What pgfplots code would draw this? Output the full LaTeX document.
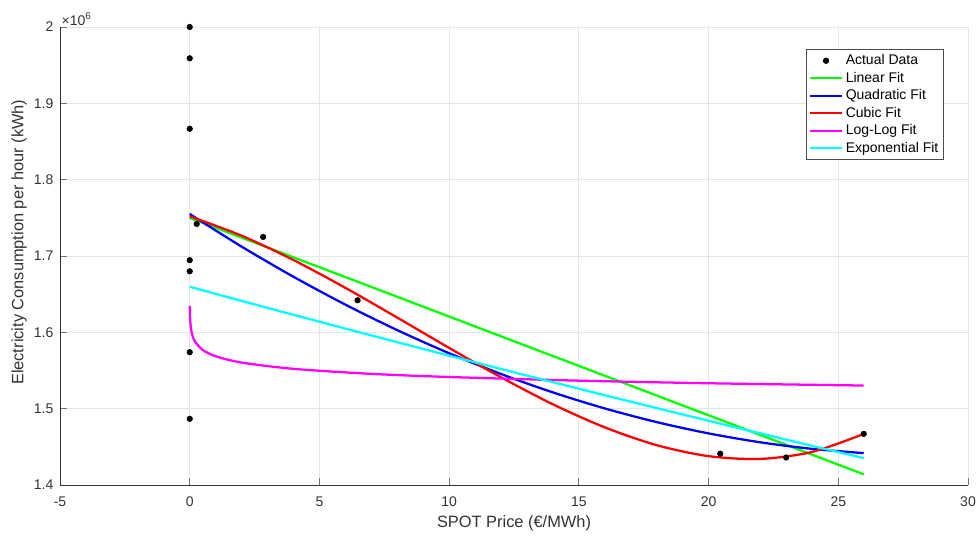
\documentclass[border=0pt]{standalone}
\usepackage{pgfplots}
\pgfplotsset{compat=1.18}
\usepackage{fontspec}
\setmainfont{Liberation Sans}
\definecolor{fgreen}{rgb}{0,1,0}
\definecolor{fblue}{rgb}{0,0,1}
\definecolor{fred}{rgb}{1,0,0}
\definecolor{fmag}{rgb}{1,0,1}
\definecolor{fcyan}{rgb}{0,1,1}
\begin{document}
\begin{tikzpicture}
\begin{axis}[
  scale only axis,
  width=681pt, height=343.5pt,
  xmin=-5, xmax=30, ymin=1.4, ymax=2.0,
  xtick={-5,0,5,10,15,20,25,30},
  ytick={1.4,1.5,1.6,1.7,1.8,1.9,2.0},
  yticklabels={1.4,1.5,1.6,1.7,1.8,1.9,2},
  axis x line*=bottom, axis y line*=left,
  axis line style={black!80, line width=0.6pt},
  tick align=inside, major tick length=5pt,
  tick style={black!55, line width=0.6pt},
  grid=major, grid style={black!10, line width=0.6pt},
  /pgf/number format/assume math mode=true,
  tick label style={font=\fontsize{10.5}{12}\selectfont, text=black!80},
  xticklabel style={yshift=-5pt},
  yticklabel style={xshift=-1.5pt},
  xlabel={SPOT Price (€/MWh)},
  ylabel={Electricity Consumption per hour (kWh)},
  label style={font=\fontsize{12.3}{14}\selectfont, text=black!80},
  x label style={at={(axis description cs:0.5,-0.083)}, anchor=center},
  y label style={at={(axis description cs:-0.045,0.53)}, anchor=center, rotate=0},
  legend cell align=left,
  legend style={at={(rel axis cs:0.9736,0.952)}, anchor=north east,
    draw=black!70, line width=0.5pt, font=\fontsize{10.5}{12.5}\selectfont,
    inner sep=2pt, row sep=0pt},
  legend image code/.code={\draw[#1, line width=1.7pt] (0cm,0cm) -- (0.84cm,0cm);},
  clip=false,
]
\addplot[only marks, mark=*, mark size=2.1pt, black,
  legend image code/.code={\fill[black] (0.42cm,0cm) circle (2.1pt);}] coordinates {
 (0,2.000) (0,1.959) (0,1.8667) (0,1.6945) (0,1.680) (0,1.574) (0,1.4867)
 (0.27,1.742) (2.83,1.725) (6.47,1.642) (20.45,1.441) (22.99,1.436) (25.98,1.467)};
\addlegendentry{Actual Data}
\addplot[color=fgreen, line width=1.7pt] coordinates {(0,1.750) (25.98,1.414)};
\addlegendentry{Linear Fit}
\addplot[color=fblue, line width=1.7pt, smooth] coordinates {
 (0,1.755) (2,1.7123) (4,1.6728) (6,1.6363) (8,1.6029) (10,1.5726) (12,1.5454) (14,1.5213)
 (16,1.5003) (18,1.4824) (20,1.4676) (22,1.4559) (24,1.4473) (25.98,1.4418)};
\addlegendentry{Quadratic Fit}
\addplot[color=fred, line width=1.7pt, smooth] coordinates {
 (0,1.752) (2,1.7266) (4,1.6947) (6,1.6583) (8,1.6193) (10,1.5796) (12,1.5411) (14,1.5057)
 (16,1.4755) (18,1.4522) (20,1.4378) (22,1.4342) (24,1.4434) (25.98,1.4669)};
\addlegendentry{Cubic Fit}
\addplot[color=fmag, line width=1.7pt, smooth] coordinates {
 (0.0045,1.6346) (0.01,1.6247) (0.02,1.6161) (0.05,1.6049) (0.1,1.5964) (0.2,1.5880)
 (0.5,1.5770) (1,1.5687) (2,1.5604) (4,1.5522) (7,1.5456) (10,1.5415) (15,1.5367)
 (20,1.5333) (25.98,1.5303)};
\addlegendentry{Log-Log Fit}
\addplot[color=fcyan, line width=1.7pt, smooth] coordinates {
 (0,1.6597) (2,1.6412) (4,1.6230) (6,1.6049) (8,1.5871) (10,1.5694) (12,1.5520) (14,1.5347)
 (16,1.5176) (18,1.5008) (20,1.4841) (22,1.4676) (24,1.4512) (25.98,1.4352)};
\addlegendentry{Exponential Fit}
\node[anchor=south west, inner sep=1pt, text=black!80, font=\fontsize{10.5}{12}\selectfont] at (rel axis cs:0,1) {×10\textsuperscript{6}};
\end{axis}
\pgfresetboundingbox
\useasboundingbox (-45pt,-38.25pt) rectangle (690pt,363.75pt);
\end{tikzpicture}
\end{document}
